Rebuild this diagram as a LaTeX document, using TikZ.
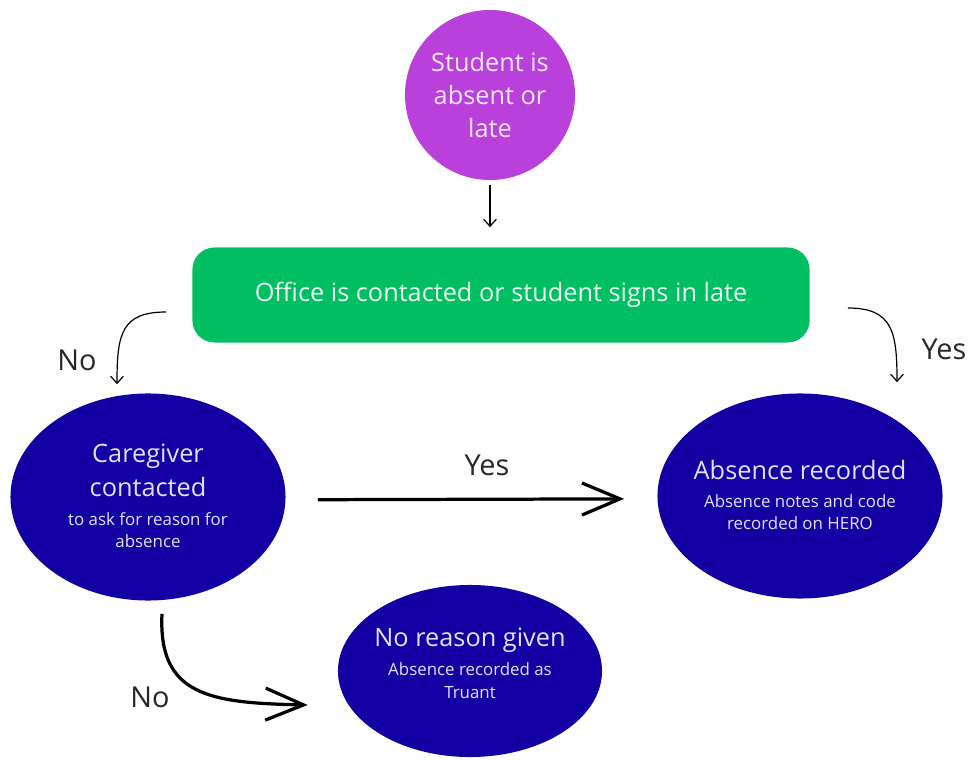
\documentclass[tikz,border=0pt]{standalone}
\usepackage{fontspec}
\setmainfont{Open Sans}
\usetikzlibrary{shapes.geometric,arrows.meta}

\definecolor{startpurple}{HTML}{BA40DB}
\definecolor{officegreen}{HTML}{00BF63}
\definecolor{stepblue}{HTML}{1300A3}
\definecolor{palelilac}{HTML}{E4E0F6}

\newcommand{\bigtxt}{\fontsize{18}{23.5}\selectfont}
\newcommand{\smalltxt}{\fontsize{12}{15.5}\selectfont}

\tikzset{
  startnode/.style={circle, fill=startpurple, minimum size=4.25cm, inner sep=0pt,
    text=white!88!startpurple, align=center, font=\bigtxt},
  officenode/.style={rectangle, rounded corners=0.55cm, fill=officegreen,
    minimum width=15.425cm, minimum height=2.375cm, text=white!92!officegreen, font=\bigtxt},
  outcomenode/.style={ellipse, fill=stepblue, inner sep=0pt},
  outcometext/.style={align=center, text=palelilac, inner sep=0pt, font=\bigtxt},
  answer/.style={font=\fontsize{20.5}{24}\selectfont, text=black!85},
  thinarrow/.style={-{Straight Barb[length=5pt,width=9pt]}, line width=0.85pt},
  thickarrow/.style={-{Straight Barb[length=0.95cm,width=0.8cm]}, line width=2.3pt}
}

\begin{document}
\begin{tikzpicture}[x={(0.025cm,0)}, y={(0,-0.025cm)}]
\useasboundingbox (0,0) rectangle (968,760);

% the steps
\node[startnode] (student) at (490,95) {Student is\\absent or\\late};
\node[officenode] (office) at (501,295) {Office is contacted or student signs in late};
\node[outcomenode, minimum width=6.875cm, minimum height=5.175cm] (caregiver) at (148,497) {};
\node[outcomenode, minimum width=7.125cm, minimum height=5.125cm] (recorded) at (800,496) {};
\node[outcomenode, minimum width=6.6cm, minimum height=4.3cm] (noreason) at (470,671) {};

% texts in the ellipses
\node[outcometext] (caregivertxt) at ([yshift=0.03cm]caregiver) {Caregiver\\contacted\\[-2.8pt]\smalltxt to ask for reason for\\[-7.9pt]\smalltxt absence};
\node[outcometext] (recordedtxt) at ([yshift=0.03cm]recorded) {Absence recorded\\[-3.5pt]\smalltxt Absence notes and code\\[-7.9pt]\smalltxt recorded on HERO};
\node[outcometext] (noreasontxt) at ([yshift=0.2cm]noreason) {No reason given\\[-2.8pt]\smalltxt Absence recorded as\\[-7pt]\smalltxt Truant};

% answers
\node[answer] (noleft) at (77,360) {No};
\node[answer] (yesright) at (944,349) {Yes};
\node[answer] (yesmid) at (487,465) {Yes};
\node[answer] (nobottom) at (150,697) {No};

% connectors
\draw[thinarrow, shorten <=0.12cm, shorten >=0.5cm] (student.south) -- (student.south |- office.north);
\draw[thinarrow] ([shift={(-26,17)}]office.west) .. controls +(-45,0) and +(0,-50) .. ([shift={(-31,-9)}]caregiver.north);
\draw[thinarrow] ([shift={(38,13)}]office.east) .. controls +(45,0) and +(0,-50) .. ([shift={(97,-11)}]recorded.north);
\draw[thickarrow, shorten <=0.8cm, shorten >=0.825cm] ([yshift=-0.07cm]caregiver.east) -- ([yshift=-0.07cm]recorded.west);
\draw[thickarrow] ([shift={(14,13)}]caregiver.south) .. controls +(-4,82) and +(-98,-2) .. ([shift={(-30,34)}]noreason.west);
\end{tikzpicture}
\end{document}
